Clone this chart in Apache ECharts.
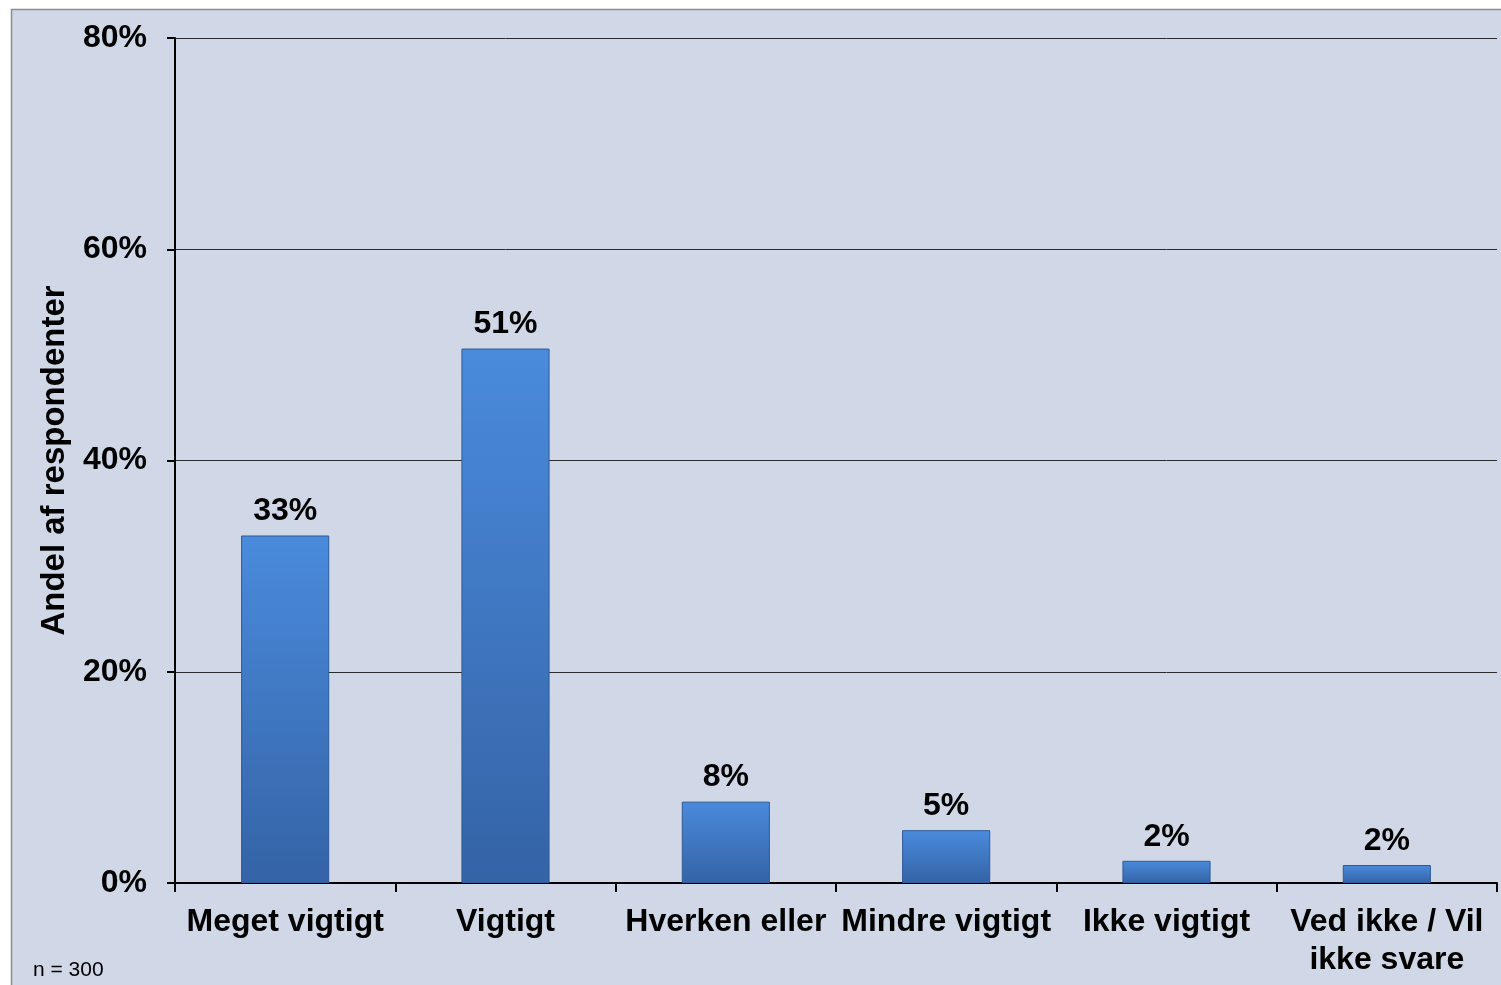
<!DOCTYPE html>
<html>
<head>
<meta charset="utf-8">
<script src="https://cdn.jsdelivr.net/npm/echarts@6/dist/echarts.min.js"></script>
<style>
  html, body { margin: 0; padding: 0; background: #ffffff; }
  #chart { width: 1501px; height: 985px; }
</style>
</head>
<body>
<div id="chart"></div>
<script>
// categories and values
const categories = ['Meget vigtigt', 'Vigtigt', 'Hverken eller', 'Mindre vigtigt', 'Ikke vigtigt', 'Ved ikke / Vil\nikke svare'];
const values = [32.9, 50.6, 7.7, 5.0, 2.1, 1.7];
const labels = ['33%', '51%', '8%', '5%', '2%', '2%'];
const yTicks = [0, 20, 40, 60, 80];

const font = '"Liberation Sans", Arial, sans-serif';
const chart = echarts.init(document.getElementById('chart'));

const option = {
  backgroundColor: '#ffffff',
  animation: false,
  graphic: [
    {
      type: 'rect', z: -10, silent: true,
      shape: { x: 11.5, y: 9.5, width: 1500, height: 990 },
      style: { fill: '#D0D8E8', stroke: '#8c8c8c', lineWidth: 1.5 }
    },
    {
      type: 'text', left: 33, top: 960,
      style: { text: 'n = 300', font: '21px ' + font, fill: '#000' }
    }
  ],
  grid: { left: 175, right: 4, top: 38, bottom: 102 },
  xAxis: {
    type: 'category',
    data: categories,
    axisLine: { lineStyle: { color: '#000', width: 2 } },
    axisTick: { show: true, length: 9, lineStyle: { color: '#000', width: 2 } },
    axisLabel: {
      interval: 0, margin: 20, color: '#000',
      fontFamily: font, fontWeight: 'bold', fontSize: 32, lineHeight: 38
    }
  },
  yAxis: {
    type: 'value', min: 0, max: 80, interval: 20,
    name: 'Andel af respondenter',
    nameLocation: 'middle', nameGap: 104, nameRotate: 90,
    nameTextStyle: { fontFamily: font, fontWeight: 'bold', fontSize: 33, color: '#000' },
    axisLine: { show: true, lineStyle: { color: '#000', width: 2 } },
    axisTick: { show: true, length: 8, lineStyle: { color: '#000', width: 2 } },
    axisLabel: {
      margin: 28, color: '#000', fontFamily: font, fontWeight: 'bold', fontSize: 32,
      formatter: v => yTicks.includes(v) ? v + '%' : ''
    },
    splitLine: { show: true, lineStyle: { color: '#2a2a2a', width: 1 } }
  },
  series: [{
    type: 'bar',
    data: values,
    barWidth: '40%',
    itemStyle: {
      color: new echarts.graphic.LinearGradient(0, 0, 0, 1, [
        { offset: 0, color: '#4A8BDC' },
        { offset: 1, color: '#3463A6' }
      ]),
      borderColor: '#2E5A98',
      borderWidth: 1
    },
    label: {
      show: true, position: 'top', distance: 8,
      formatter: p => labels[p.dataIndex],
      fontFamily: font, fontWeight: 'bold', fontSize: 32, color: '#000'
    }
  }]
};

chart.setOption(option);
</script>
</body>
</html>
